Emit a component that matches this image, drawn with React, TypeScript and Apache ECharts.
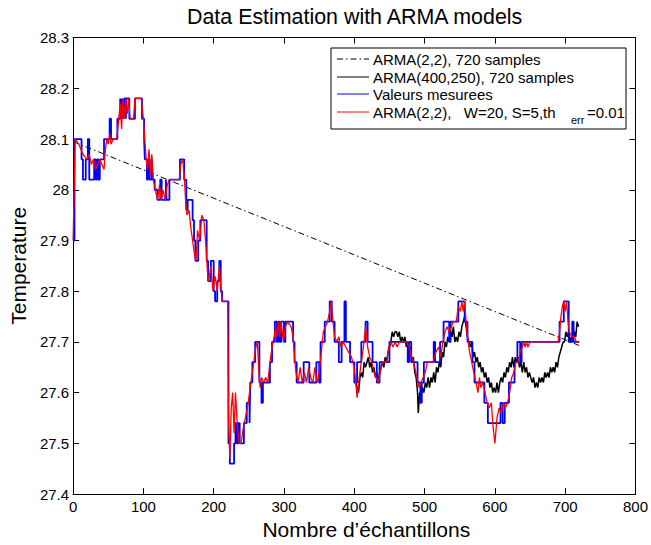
import React, { useEffect, useRef } from "react";
import * as echarts from "echarts";

const TITLE = "Data Estimation with ARMA models";
const X_NAME = "Nombre d’échantillons";
const Y_NAME = "Temperature";
const LEGEND_NAMES = [
  "ARMA(2,2), 720 samples",
  "ARMA(400,250), 720 samples",
  "Valeurs mesurees",
  "ARMA(2,2),   W=20, S=5,th",
];
const LEGEND_SUB = "err";
const LEGEND_TAIL = "=0.01";

// ARMA(2,2), 720 samples (straight dash-dot trend)
const arma22Global: number[][] = [
  [0, 28.095],
  [720, 27.693],
];

// Measured values (step changes)
const measured: number[][] = [
  [0, 27.9], [2, 28.1], [12, 28.06], [14, 28.02], [18, 28.06], [21, 28.1], [23, 28.02], [30, 28.06],
  [32, 28.02], [34, 28.06], [36, 28.02], [38, 28.06], [44, 28.1], [52, 28.14], [54, 28.1], [63, 28.14],
  [67, 28.18], [68, 28.14], [69, 28.18], [70, 28.14], [71, 28.18], [72, 28.14], [73, 28.18], [75, 28.14],
  [76, 28.18], [80, 28.14], [88, 28.18], [98, 28.14], [101, 28.1], [102, 28.06], [105, 28.02], [107, 28.06],
  [109, 28.02], [112, 28.06], [113, 28.02], [116, 28.0], [120, 27.98], [124, 28.02], [126, 27.98], [132, 28.02],
  [133, 27.98], [137, 28.02], [152, 28.06], [158, 28.02], [161, 27.96], [163, 27.98], [170, 27.94], [172, 27.9],
  [174, 27.86], [178, 27.9], [181, 27.94], [190, 27.86], [192, 27.82], [196, 27.86], [200, 27.8], [202, 27.78],
  [205, 27.82], [208, 27.86], [210, 27.8], [212, 27.78], [221, 27.5], [223, 27.46], [229, 27.5], [231, 27.54],
  [233, 27.5], [235, 27.54], [237, 27.5], [243, 27.54], [247, 27.58], [251, 27.54], [252, 27.62], [255, 27.66],
  [259, 27.7], [265, 27.62], [268, 27.58], [270, 27.62], [280, 27.66], [283, 27.7], [287, 27.74], [290, 27.7],
  [292, 27.74], [294, 27.7], [296, 27.74], [300, 27.7], [302, 27.74], [313, 27.7], [315, 27.66], [318, 27.62],
  [328, 27.66], [336, 27.62], [346, 27.66], [350, 27.62], [352, 27.7], [358, 27.74], [365, 27.78], [368, 27.74],
  [372, 27.7], [378, 27.66], [382, 27.7], [386, 27.78], [388, 27.7], [394, 27.66], [400, 27.62], [404, 27.66],
  [410, 27.7], [416, 27.74], [419, 27.7], [426, 27.66], [432, 27.62], [436, 27.66], [450, 27.7], [476, 27.66],
  [478, 27.7], [481, 27.66], [490, 27.62], [494, 27.58], [496, 27.62], [499, 27.66], [513, 27.7], [515, 27.66],
  [522, 27.7], [527, 27.74], [535, 27.7], [537, 27.74], [548, 27.78], [557, 27.74], [561, 27.7], [568, 27.66],
  [571, 27.62], [585, 27.58], [590, 27.54], [608, 27.58], [611, 27.54], [614, 27.58], [620, 27.62], [628, 27.66],
  [632, 27.7], [636, 27.66], [638, 27.7], [692, 27.74], [698, 27.78], [705, 27.7], [710, 27.74], [712, 27.7],
  [720, 27.7],
];

// ARMA(2,2), W=20, S=5, th_err=0.01 (windowed estimate)
const armaWindow: number[][] = [
  [0, 27.9], [3, 28.1], [8, 28.09], [14, 28.07], [20, 28.06], [23, 28.07], [26, 28.05], [29, 28.06],
  [32, 28.04], [35, 28.05], [38, 28.06], [41, 28.05], [44, 28.04], [46, 28.08], [48, 28.1], [50, 28.09],
  [52, 28.11], [54, 28.09], [57, 28.1], [62, 28.1], [65, 28.14], [67, 28.17], [69, 28.12], [71, 28.18],
  [73, 28.14], [75, 28.18], [77, 28.15], [79, 28.18], [81, 28.14], [86, 28.14], [88, 28.18], [97, 28.18],
  [100, 28.14], [102, 28.1], [104, 28.06], [106, 28.04], [108, 28.08], [110, 28.03], [112, 28.07], [114, 28.02],
  [117, 28.0], [120, 27.98], [123, 28.01], [125, 27.98], [128, 28.0], [131, 27.98], [134, 28.01], [137, 28.02],
  [151, 28.02], [153, 28.05], [156, 28.06], [158, 28.03], [160, 27.98], [162, 27.95], [165, 27.96], [167, 27.93],
  [170, 27.9], [173, 27.87], [175, 27.86], [177, 27.92], [180, 27.9], [183, 27.95], [186, 27.94], [189, 27.89],
  [191, 27.84], [193, 27.82], [196, 27.85], [199, 27.8], [202, 27.83], [205, 27.8], [208, 27.85], [210, 27.81],
  [212, 27.78], [220, 27.78], [221, 27.55], [223, 27.47], [225, 27.57], [227, 27.6], [229, 27.52], [231, 27.6],
  [233, 27.55], [236, 27.5], [239, 27.5], [242, 27.53], [245, 27.55], [248, 27.57], [251, 27.6], [254, 27.63],
  [257, 27.66], [260, 27.69], [262, 27.7], [264, 27.65], [266, 27.61], [268, 27.63], [271, 27.62], [274, 27.63],
  [277, 27.62], [280, 27.66], [283, 27.69], [286, 27.71], [288, 27.73], [290, 27.71], [292, 27.74], [294, 27.71],
  [296, 27.74], [299, 27.7], [302, 27.73], [305, 27.74], [310, 27.73], [313, 27.71], [315, 27.67], [317, 27.64],
  [320, 27.62], [323, 27.65], [326, 27.62], [329, 27.64], [332, 27.62], [335, 27.65], [338, 27.63], [341, 27.62],
  [344, 27.65], [347, 27.62], [350, 27.64], [353, 27.68], [356, 27.72], [359, 27.73], [362, 27.74], [365, 27.76],
  [367, 27.78], [369, 27.75], [372, 27.71], [375, 27.7], [378, 27.71], [381, 27.69], [384, 27.7], [388, 27.69],
  [392, 27.68], [396, 27.67], [400, 27.65], [402, 27.62], [404, 27.59], [407, 27.63], [410, 27.66], [413, 27.69],
  [416, 27.73], [419, 27.69], [422, 27.67], [425, 27.66], [428, 27.64], [431, 27.63], [434, 27.62], [437, 27.64],
  [440, 27.66], [446, 27.66], [449, 27.69], [452, 27.7], [455, 27.69], [458, 27.7], [461, 27.69], [464, 27.7],
  [474, 27.7], [478, 27.69], [482, 27.67], [486, 27.65], [489, 27.63], [492, 27.61], [495, 27.62], [498, 27.63],
  [501, 27.64], [504, 27.66], [512, 27.66], [516, 27.68], [520, 27.69], [523, 27.67], [526, 27.7], [529, 27.72],
  [532, 27.73], [535, 27.72], [538, 27.73], [541, 27.74], [545, 27.74], [548, 27.77], [551, 27.76], [553, 27.78],
  [555, 27.76], [557, 27.78], [559, 27.74], [561, 27.71], [564, 27.68], [567, 27.66], [570, 27.64], [573, 27.62],
  [576, 27.6], [578, 27.63], [580, 27.61], [583, 27.62], [586, 27.6], [589, 27.58], [592, 27.57], [595, 27.58],
  [597, 27.54], [600, 27.5], [603, 27.55], [606, 27.57], [609, 27.56], [612, 27.58], [615, 27.57], [618, 27.58],
  [621, 27.6], [624, 27.63], [627, 27.64], [630, 27.66], [633, 27.66], [636, 27.68], [639, 27.69], [641, 27.7],
  [643, 27.69], [645, 27.7], [647, 27.69], [650, 27.7], [690, 27.7], [692, 27.72], [694, 27.75], [696, 27.77],
  [698, 27.78], [700, 27.76], [702, 27.78], [704, 27.74], [706, 27.72], [709, 27.71], [713, 27.71], [716, 27.7],
  [720, 27.7],
];

// ARMA(400,250), 720 samples (noisy estimate, from sample ~400)
const arma400: number[][] = [
  [402, 27.62], [404, 27.61], [406, 27.6], [408, 27.63], [410, 27.64], [412, 27.63], [414, 27.66], [416, 27.65],
  [418, 27.66], [420, 27.67], [422, 27.65], [424, 27.66], [426, 27.64], [428, 27.65], [430, 27.63], [432, 27.64],
  [434, 27.62], [436, 27.64], [438, 27.65], [440, 27.66], [442, 27.65], [444, 27.67], [446, 27.66], [448, 27.68],
  [450, 27.69], [452, 27.7], [454, 27.72], [456, 27.71], [458, 27.72], [460, 27.72], [462, 27.71], [464, 27.72],
  [466, 27.7], [468, 27.71], [470, 27.7], [472, 27.71], [474, 27.69], [476, 27.7], [478, 27.68], [480, 27.69],
  [482, 27.66], [484, 27.67], [486, 27.64], [488, 27.63], [490, 27.6], [491, 27.56], [493, 27.6], [495, 27.59],
  [497, 27.61], [499, 27.6], [501, 27.62], [503, 27.61], [505, 27.63], [507, 27.61], [509, 27.63], [511, 27.62],
  [513, 27.64], [515, 27.62], [517, 27.65], [519, 27.64], [521, 27.66], [523, 27.65], [525, 27.68], [527, 27.67],
  [529, 27.7], [531, 27.69], [533, 27.71], [535, 27.7], [537, 27.72], [539, 27.71], [541, 27.73], [543, 27.7],
  [545, 27.71], [547, 27.7], [549, 27.72], [551, 27.71], [553, 27.73], [555, 27.74], [557, 27.75], [559, 27.73],
  [561, 27.71], [563, 27.7], [565, 27.69], [567, 27.7], [569, 27.67], [571, 27.68], [573, 27.66], [575, 27.67],
  [577, 27.65], [579, 27.66], [581, 27.64], [583, 27.65], [585, 27.63], [587, 27.64], [589, 27.62], [591, 27.63],
  [593, 27.61], [595, 27.62], [597, 27.6], [599, 27.61], [601, 27.6], [603, 27.62], [605, 27.6], [607, 27.62],
  [609, 27.63], [611, 27.62], [613, 27.64], [615, 27.63], [617, 27.65], [619, 27.64], [621, 27.66], [623, 27.65],
  [625, 27.67], [627, 27.65], [629, 27.67], [631, 27.66], [633, 27.67], [635, 27.65], [637, 27.66], [639, 27.64],
  [641, 27.66], [643, 27.64], [645, 27.65], [647, 27.63], [649, 27.64], [651, 27.63], [653, 27.62], [655, 27.63],
  [657, 27.61], [659, 27.62], [661, 27.61], [663, 27.63], [665, 27.62], [667, 27.63], [669, 27.62], [671, 27.64],
  [673, 27.63], [675, 27.64], [677, 27.63], [679, 27.65], [681, 27.64], [683, 27.65], [685, 27.64], [687, 27.66],
  [689, 27.65], [691, 27.67], [693, 27.68], [695, 27.69], [697, 27.7], [699, 27.7], [701, 27.72], [703, 27.71],
  [705, 27.72], [707, 27.7], [709, 27.71], [711, 27.7], [713, 27.72], [715, 27.71], [717, 27.74], [719, 27.73],
  [720, 27.73],
];

const FONT = "Liberation Sans, Arial, Helvetica, sans-serif";

export default function App() {
  const ref = useRef<HTMLDivElement>(null);
  useEffect(() => {
    if (!ref.current) return;
    const chart = echarts.init(ref.current, undefined, { renderer: "svg" });
    const axisCommon = {
      axisLine: { show: true, onZero: false, lineStyle: { color: "#000", width: 1 } },
      axisTick: { show: true, inside: true, length: 6, lineStyle: { color: "#000", width: 1 } },
      splitLine: { show: false },
    };
    const legendRows = [59, 77, 94, 112];
    const legendColors = ["#000", "#000", "#0000ff", "#ff0000"];
    const legendDash: any[] = [[6, 3, 1.5, 3], null, null, null];
    const graphic: any[] = [
      {
        type: "rect",
        shape: { x: 331, y: 48, width: 295, height: 81 },
        style: { fill: "#fff", stroke: "#000", lineWidth: 1 },
        z: 100,
      },
    ];
    legendRows.forEach((y, i) => {
      graphic.push({
        type: "line",
        shape: { x1: 337, y1: y, x2: 369, y2: y },
        style: { stroke: legendColors[i], lineWidth: 1, lineDash: legendDash[i] || undefined },
        z: 101,
      });
      graphic.push({
        type: "text",
        x: 373,
        y: y,
        style: { text: LEGEND_NAMES[i], font: `15px ${FONT}`, fill: "#000", textVerticalAlign: "middle", textAlign: "left" },
        z: 101,
      });
    });
    graphic.push({
      type: "text",
      x: 571,
      y: 120,
      style: { text: LEGEND_SUB, font: `11px ${FONT}`, fill: "#000", textVerticalAlign: "middle", textAlign: "left" },
      z: 101,
    });
    graphic.push({
      type: "text",
      x: 587,
      y: 112,
      style: { text: LEGEND_TAIL, font: `15px ${FONT}`, fill: "#000", textVerticalAlign: "middle", textAlign: "left" },
      z: 101,
    });

    chart.setOption({
      animation: false,
      backgroundColor: "#fff",
      title: {
        text: TITLE,
        left: 187,
        top: 6,
        padding: 0,
        textStyle: { fontFamily: FONT, fontSize: 21.4, fontWeight: "normal", color: "#000" },
      },
      grid: { left: 70, right: 13, top: 37.6, bottom: 42, containLabel: false },
      xAxis: [
        {
          type: "value",
          min: 0,
          max: 800,
          interval: 100,
          position: "bottom",
          ...axisCommon,
          axisLabel: { color: "#000", fontFamily: FONT, fontSize: 15, margin: 5 },
          name: X_NAME,
          nameLocation: "middle",
          nameGap: 21,
          nameTextStyle: { color: "#000", fontFamily: FONT, fontSize: 21, padding: [0, 0, 0, 24] },
        },
        {
          type: "value",
          min: 0,
          max: 800,
          interval: 100,
          position: "top",
          ...axisCommon,
          axisLabel: { show: false },
        },
      ],
      yAxis: [
        {
          type: "value",
          min: 27.4,
          max: 28.3,
          interval: 0.1,
          position: "left",
          ...axisCommon,
          axisLabel: {
            color: "#000",
            fontFamily: FONT,
            fontSize: 15,
            margin: 4,
            formatter: (v: number) => String(Number(v.toFixed(1))),
          },
          name: Y_NAME,
          nameLocation: "middle",
          nameGap: 37,
          nameTextStyle: { color: "#000", fontFamily: FONT, fontSize: 21 },
        },
        {
          type: "value",
          min: 27.4,
          max: 28.3,
          interval: 0.1,
          position: "right",
          ...axisCommon,
          axisLabel: { show: false },
        },
      ],
      series: [
        {
          name: LEGEND_NAMES[0],
          type: "line",
          data: arma22Global,
          showSymbol: false,
          symbol: "none",
          lineStyle: { color: "#000", width: 1, type: [6, 3, 1.5, 3] },
          z: 2,
        },
        {
          name: LEGEND_NAMES[1],
          type: "line",
          data: arma400,
          showSymbol: false,
          symbol: "none",
          lineStyle: { color: "#000", width: 1.5 },
          z: 3,
        },
        {
          name: LEGEND_NAMES[2],
          type: "line",
          step: "end",
          data: measured,
          showSymbol: false,
          symbol: "none",
          lineStyle: { color: "#0000ff", width: 1.8 },
          z: 4,
        },
        {
          name: "ARMA(2,2), W=20, S=5, th_err=0.01",
          type: "line",
          data: armaWindow,
          showSymbol: false,
          symbol: "none",
          lineStyle: { color: "#ff0000", width: 1.3 },
          z: 5,
        },
      ],
      graphic,
    });
    return () => chart.dispose();
  }, []);
  return (
    <div
      ref={ref}
      style={{ position: "absolute", left: 0, top: 0, width: 651, height: 545, background: "#fff" }}
    />
  );
}
